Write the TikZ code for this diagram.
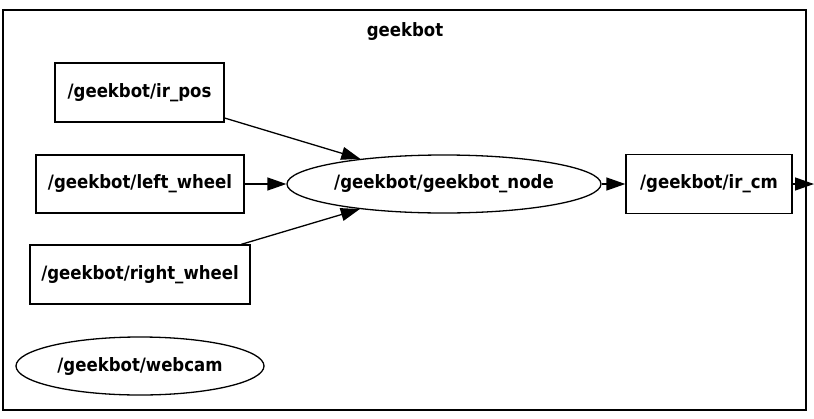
\documentclass[tikz,border=0pt]{standalone}
\usepackage{fontspec}
\setmainfont{DejaVu Sans}
\newfontfamily\lblfont{DejaVu Sans Condensed}
\usetikzlibrary{shapes.geometric,arrows.meta}
\begin{document}
\begin{tikzpicture}[x=1pt,y=-1pt,
  lbl/.style={font=\lblfont\fontsize{18.4}{20}\selectfont\bfseries},
  topicbox/.style={draw,line width=1.3pt,rectangle,inner sep=0pt,lbl},
  nodeell/.style={draw,line width=1.3pt,ellipse,inner sep=0pt,lbl},
  edge/.style={line width=1.3pt,-{Triangle[length=19pt,width=13pt]}}]
\useasboundingbox (0,0) rectangle (814,418);
\node[draw,line width=1.3pt,minimum width=803pt,minimum height=400pt,inner sep=0pt] (cluster) at (404.5,210) {};
\node[lbl] (title) at (405,31) {geekbot};
\node[topicbox,minimum width=169pt,minimum height=59pt] (irpos) at (139.5,92.5) {/geekbot/ir\_pos};
\node[topicbox,minimum width=208pt,minimum height=58pt] (left) at (140,184) {/geekbot/left\_wheel};
\node[topicbox,minimum width=220pt,minimum height=59pt] (right) at (140,274.5) {/geekbot/right\_wheel};
\node[nodeell,minimum width=314pt,minimum height=58pt] (gnode) at (444,184) {/geekbot/geekbot\_node};
\node[nodeell,minimum width=248pt,minimum height=58pt] (webcam) at (140,366) {/geekbot/webcam};
\node[topicbox,minimum width=166pt,minimum height=59pt] (ircm) at (709,184) {/geekbot/ir\_cm};
\coordinate (out) at (814,184);
\draw[edge] (irpos) -- (gnode);
\draw[edge] (left) -- (gnode);
\draw[edge] (right) -- (gnode);
\draw[edge] (gnode) -- (ircm);
\draw[edge] (ircm) -- (out);
\end{tikzpicture}
\end{document}
